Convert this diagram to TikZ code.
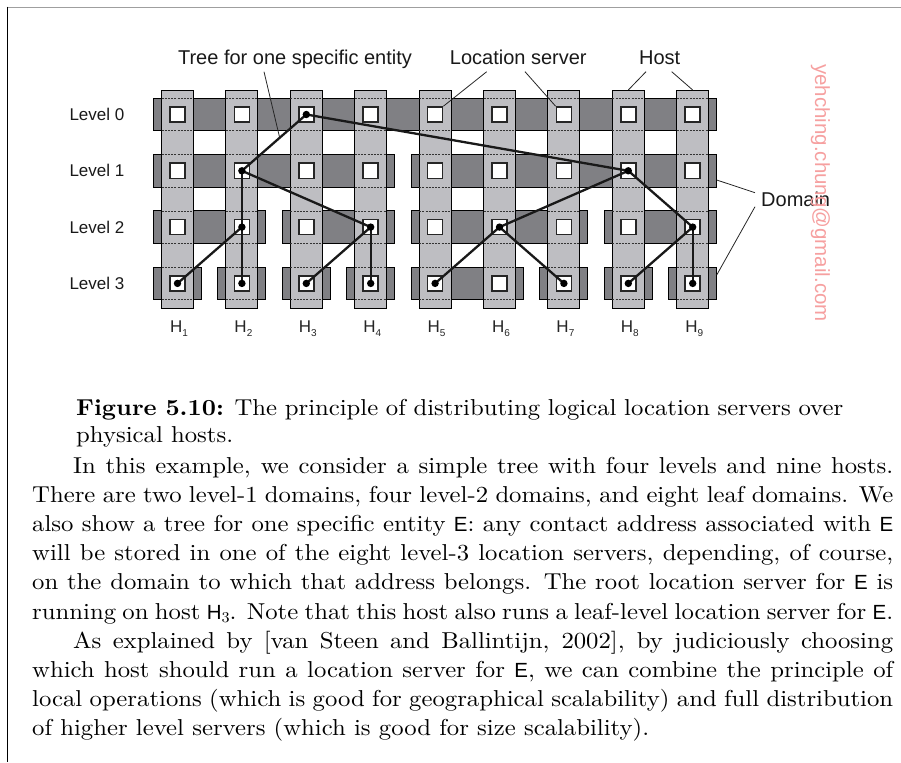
\documentclass[tikz,border=0pt]{standalone}
\usepackage{fontspec}
\setsansfont{Liberation Sans}
\newfontfamily\bodyfont{lmroman10}[Extension=.otf, UprightFont=*-regular, BoldFont=*-bold, ItalicFont=*-italic, FakeStretch=1.075]
\definecolor{hostgray}{RGB}{190,190,194}
\definecolor{domgray}{RGB}{128,128,132}
\definecolor{wmark}{RGB}{246,160,160}
\newcommand{\Ent}{\textsf{\fontsize{20.5}{22}\selectfont E}}
\newcommand{\Hsub}[1]{\textsf{\fontsize{20.5}{22}\selectfont H}\raisebox{-3.5pt}{\fontsize{15}{15}\selectfont #1}}
\newcommand{\hl}[1]{{\fontsize{17}{20}\selectfont\sffamily H\raisebox{-4.5pt}{\fontsize{10}{10}\selectfont #1}}}
\begin{document}
\begin{tikzpicture}[x=1pt,y=-1pt,
  hostcol/.style={fill=hostgray, draw=black, line width=0.9pt},
  dombar/.style={fill=domgray, draw=black, line width=0.9pt},
  edgedash/.style={dash pattern=on 2pt off 1.2pt, line width=0.7pt, draw=black!80},
  lsrv/.style={rectangle, draw=black!85, fill=white, line width=1.6pt, minimum size=15pt, inner sep=0pt},
  treeline/.style={line width=2.3pt, black!90},
  leader/.style={line width=0.8pt, black!85},
  toplbl/.style={font=\sffamily\fontsize{20}{24}\selectfont, inner sep=0pt, text=black!90},
  lvllbl/.style={font=\sffamily\fontsize{17}{20}\selectfont, inner sep=0pt, text=black!90},
  hostlbl/.style={inner sep=0pt, text=black!85},
  bodyline/.style={inner sep=0pt, font=\bodyfont\fontsize{23}{29}\selectfont},
]
\useasboundingbox (0,0) rectangle (901,762);
% page border
\draw[gray!75, line width=1.8pt] (6.5,7.6) -- (901,7.6);
\draw[black, line width=1.2pt] (7.2,6.7) -- (7.2,762);

% domain bars
\foreach \lv/\a/\b in {0/1/9, 1/1/4, 1/5/9, 2/1/2, 2/3/4, 2/5/7, 2/8/9,
                       3/1/1, 3/2/2, 3/3/3, 3/4/4, 3/5/6, 3/7/7, 3/8/8, 3/9/9}
  \draw[dombar] ({177.5+64.4*(\a-1)-24}, {114.5+56.3*\lv-16.2})
      rectangle ({177.5+64.4*(\b-1)+24}, {114.5+56.3*\lv+16.2});

% host columns
\foreach \h in {1,...,9}
  \draw[hostcol] ({177.5+64.4*(\h-1)-16}, 90) rectangle ({177.5+64.4*(\h-1)+16}, 308.3);

% dashed bar edges across the columns
\foreach \h in {1,...,9}
  \foreach \lv in {0,...,3} {
    \draw[edgedash] ({177.5+64.4*(\h-1)-16}, {114.5+56.3*\lv-16.2}) -- ({177.5+64.4*(\h-1)+16}, {114.5+56.3*\lv-16.2});
    \draw[edgedash] ({177.5+64.4*(\h-1)-16}, {114.5+56.3*\lv+16.2}) -- ({177.5+64.4*(\h-1)+16}, {114.5+56.3*\lv+16.2});
  }

% location servers
\foreach \h in {1,...,9}
  \foreach \lv in {0,...,3}
    \node[lsrv] (s\h-\lv) at ({177.5+64.4*(\h-1)}, {114.5+56.3*\lv}) {};

% tree for one entity
\foreach \p/\c in {s3-0/s2-1, s3-0/s8-1, s2-1/s2-2, s2-1/s4-2, s2-2/s1-3, s2-2/s2-3,
                   s4-2/s3-3, s4-2/s4-3, s8-1/s6-2, s8-1/s9-2, s6-2/s5-3, s6-2/s7-3,
                   s9-2/s8-3, s9-2/s9-3}
  \draw[treeline] (\p.center) -- (\c.center);
\foreach \n in {s3-0, s2-1, s8-1, s2-2, s4-2, s6-2, s9-2, s1-3, s2-3, s3-3, s4-3, s5-3, s7-3, s8-3, s9-3}
  \fill[black] (\n.center) circle[radius=3.7pt];

% level labels
\foreach \lv in {0,...,3}
  \node[lvllbl, anchor=west] (lv\lv) at (69.3, {114.5+56.3*\lv}) {Level \lv};

% host labels
\foreach \h in {1,...,9}
  \node[hostlbl, anchor=base] (hl\h) at ({179+64.4*(\h-1)}, 332.3) {\hl{\h}};

% top labels and leaders
\node[toplbl, anchor=base] (ttree) at (295,65) {Tree for one specific entity};
\node[toplbl, anchor=base] (tloc) at (518.3,65) {Location server};
\node[toplbl, anchor=base] (thost) at (659.7,65) {Host};
\node[toplbl, anchor=west] (tdom) at (761,199) {Domain};

\coordinate (c-tree) at (279.5,137);
\coordinate (c-tree0) at (264,71.7);
\coordinate (c-loc0a) at (486.7,71.7);
\coordinate (c-loc0b) at (525,71.7);
\coordinate (c-host0a) at (646,71.7);
\coordinate (c-host0b) at (671.7,71.7);
\coordinate (c-hosta) at (628.3,90);
\coordinate (c-hostb) at (692.7,90);
\coordinate (c-doma) at (755,192.7);
\coordinate (c-domb) at (755,206.7);
\coordinate (c-dom1) at (716.7,180);
\coordinate (c-dom3) at (716.7,275);

\draw[leader] (c-tree0) -- (c-tree);
\draw[leader] (c-loc0a) -- (s5-0.north east);
\draw[leader] (c-loc0b) -- (s7-0.north west);
\draw[leader] (c-host0a) -- (c-hosta);
\draw[leader] (c-host0b) -- (c-hostb);
\draw[leader] (c-doma) -- (c-dom1);
\draw[leader] (c-domb) -- (c-dom3);

% watermark
\node[rotate=-90, inner sep=0pt, text=wmark, font=\sffamily\fontsize{20.5}{24}\selectfont] (wm) at (820.5,193) {yehching.chung@gmail.com};

% caption
\node[bodyline, anchor=base west] (cap1) at (76,415) {\makebox[767pt][s]{\textbf{Figure 5.10:} The principle of distributing logical location servers over}};
\node[bodyline, anchor=base west] (cap2) at (76,442) {physical hosts.};

% body text
\node[bodyline, anchor=base west] (b1) at (73,473) {\makebox[820pt][s]{In this example, we consider a simple tree with four levels and nine hosts.}};
\node[bodyline, anchor=base west] (b2) at (32,502.2) {\makebox[861pt][s]{There are two level-1 domains, four level-2 domains, and eight leaf domains. We}};
\node[bodyline, anchor=base west] (b3) at (32,531.4) {\makebox[861pt][s]{also show a tree for one specific entity \Ent: any contact address associated with \Ent}};
\node[bodyline, anchor=base west] (b4) at (32,560.6) {\makebox[861pt][s]{will be stored in one of the eight level-3 location servers, depending, of course,}};
\node[bodyline, anchor=base west] (b5) at (32,589.8) {\makebox[861pt][s]{on the domain to which that address belongs. The root location server for \Ent{} is}};
\node[bodyline, anchor=base west] (b6) at (32,619) {\makebox[861pt][s]{running on host \Hsub{3}. Note that this host also runs a leaf-level location server for \Ent.}};
\node[bodyline, anchor=base west] (b7) at (73,648.2) {\makebox[820pt][s]{As explained by [van Steen and Ballintijn, 2002], by judiciously choosing}};
\node[bodyline, anchor=base west] (b8) at (32,677.4) {\makebox[861pt][s]{which host should run a location server for \Ent, we can combine the principle of}};
\node[bodyline, anchor=base west] (b9) at (32,706.6) {\makebox[861pt][s]{local operations (which is good for geographical scalability) and full distribution}};
\node[bodyline, anchor=base west] (b10) at (32,735.8) {of higher level servers (which is good for size scalability).};
\end{tikzpicture}
\end{document}
